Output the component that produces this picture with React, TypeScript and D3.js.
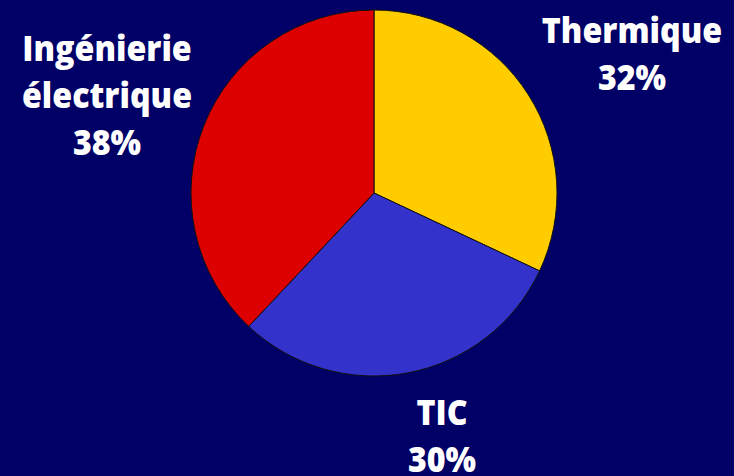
import React from "react";
import * as d3 from "d3";

const categories = ["Thermique", "TIC", "Ingénierie électrique"];
const values = [32, 30, 38];
const colors = ["#FFCC00", "#3333CC", "#DD0000"];
const labelLines = [["Thermique", "32%"], ["TIC", "30%"], ["Ingénierie", "électrique", "38%"]];
const labelPos = [
  [632, 43],
  [442, 425],
  [107, 61],
];

const W = 734;
const H = 476;

export default function App() {
  const cx = 374;
  const cy = 193;
  const r = 183;
  const pie = d3.pie<number>().sort(null).value((d) => d)(values);
  const arc = d3.arc<d3.PieArcDatum<number>>().innerRadius(0).outerRadius(r);
  return (
    <svg
      width={W}
      height={H}
      style={{ position: "fixed", left: 0, top: 0, display: "block" }}
    >
      <rect x={0} y={0} width={W} height={H} fill="#000066" />
      <g transform={`translate(${cx},${cy})`}>
        {pie.map((p, i) => (
          <path
            key={categories[i]}
            d={arc(p) || ""}
            fill={colors[i]}
            stroke="#111111"
            strokeWidth={1}
          />
        ))}
      </g>
      {labelLines.map((lines, i) => (
        <g key={i} transform={`translate(${labelPos[i][0]},${labelPos[i][1]}) scale(0.92,1)`}>
          <text
            x={0}
            y={0}
            textAnchor="middle"
            fill="#FFFFFF"
            fontFamily="'Open Sans', sans-serif"
            fontWeight={800}
            fontSize={35}
          >
            {lines.map((l, j) => (
              <tspan key={j} x={0} dy={j === 0 ? 0 : 47}>
                {l}
              </tspan>
            ))}
          </text>
        </g>
      ))}
    </svg>
  );
}
